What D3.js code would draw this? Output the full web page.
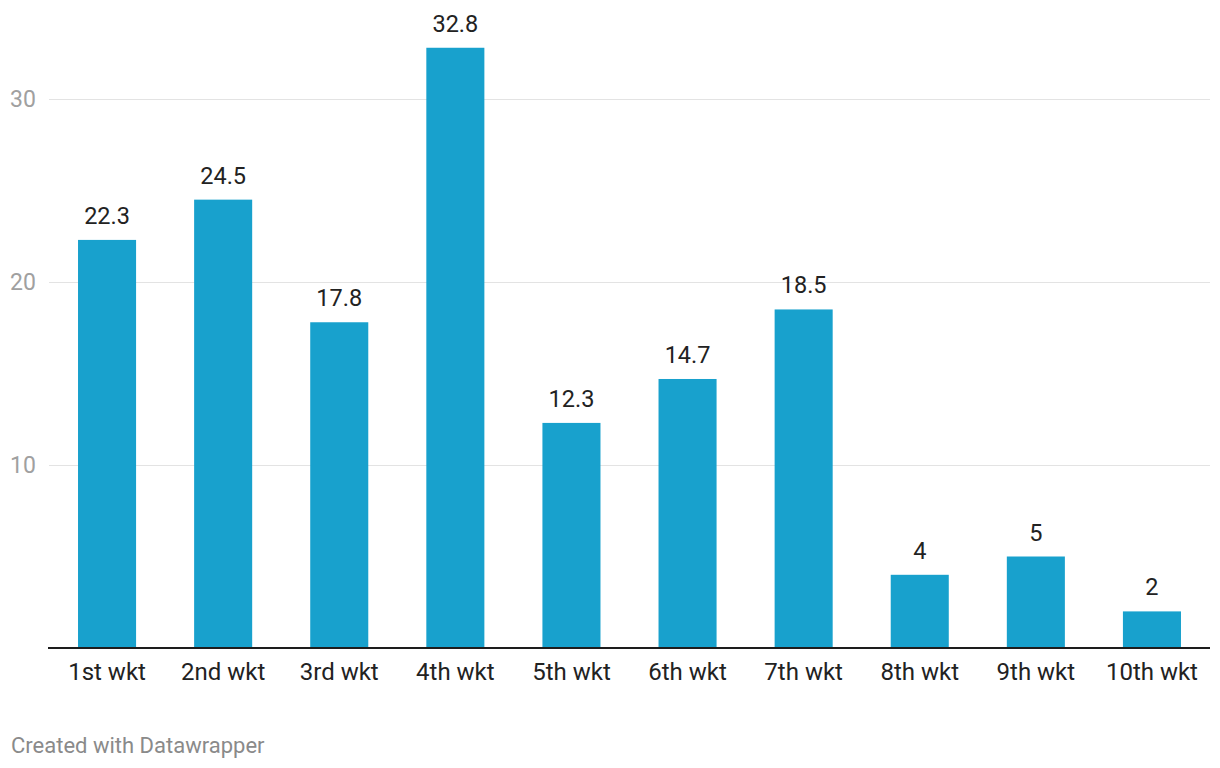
<!DOCTYPE html>
<html>
<head>
<meta charset="utf-8">
<script src="https://cdn.jsdelivr.net/npm/d3@7"></script>
<style>
  body { margin: 0; background: #fff; font-family: Roboto, "Noto Sans", sans-serif; }
</style>
</head>
<body>
<script>
// data
var categories = ["1st wkt", "2nd wkt", "3rd wkt", "4th wkt", "5th wkt", "6th wkt", "7th wkt", "8th wkt", "9th wkt", "10th wkt"];
var values = [22.3, 24.5, 17.8, 32.8, 12.3, 14.7, 18.5, 4, 5, 2];
var yTicks = [10, 20, 30];

var w = 1220;
var h = 768;
var left = 49, right = 1210, baseY = 648;

var svg = d3.select("body")
    .append("svg")
    .attr("width", w)
    .attr("height", h);

var xScale = d3.scaleBand()
    .domain(categories)
    .range([left, right])
    .paddingInner(0.5)
    .paddingOuter(0.25);

var yScale = d3.scaleLinear()
    .domain([0, 30])
    .range([baseY, 99]);

// gridlines
svg.selectAll("line.grid")
   .data(yTicks)
   .enter()
   .append("line")
   .attr("class", "grid")
   .attr("x1", left)
   .attr("x2", right)
   .attr("y1", function(d) { return Math.round(yScale(d)) + 0.5; })
   .attr("y2", function(d) { return Math.round(yScale(d)) + 0.5; })
   .attr("stroke", "#e3e3e3")
   .attr("stroke-width", 1);

svg.selectAll("text.ytick")
   .data(yTicks)
   .enter()
   .append("text")
   .attr("class", "ytick")
   .attr("x", 10)
   .attr("y", function(d) { return yScale(d); })
   .attr("dy", "0.36em")
   .attr("font-size", 23)
   .attr("fill", "#a0a0a0")
   .text(function(d) { return d; });

// bars
svg.selectAll("rect")
   .data(values)
   .enter()
   .append("rect")
   .attr("x", function(d, i) { return xScale(categories[i]); })
   .attr("width", xScale.bandwidth())
   .attr("y", function(d) { return yScale(d); })
   .attr("height", function(d) { return baseY - yScale(d); })
   .attr("fill", "#18a1cd");

// value labels
svg.selectAll("text.val")
   .data(values)
   .enter()
   .append("text")
   .attr("class", "val")
   .attr("x", function(d, i) { return xScale(categories[i]) + xScale.bandwidth() / 2; })
   .attr("y", function(d) { return yScale(d) - 16; })
   .attr("text-anchor", "middle")
   .attr("font-size", 23.5)
   .attr("fill", "#222")
   .text(function(d) { return d; });

// baseline
svg.append("line")
   .attr("x1", 48)
   .attr("x2", right)
   .attr("y1", baseY)
   .attr("y2", baseY)
   .attr("stroke", "#1d1d1d")
   .attr("stroke-width", 2);

// x axis labels
var xAxis = d3.axisBottom(xScale).tickSize(0).tickPadding(0);
var gx = svg.append("g")
   .attr("transform", "translate(0," + baseY + ")")
   .call(xAxis);
gx.select(".domain").remove();
gx.selectAll("text")
   .attr("y", 31.5)
   .attr("dy", 0)
   .attr("font-size", 24)
   .attr("font-family", "Roboto, sans-serif")
   .attr("fill", "#222");

svg.append("text")
   .attr("x", 11)
   .attr("y", 753)
   .attr("font-size", 22)
   .attr("fill", "#8a8a8a")
   .text("Created with Datawrapper");
</script>
</body>
</html>
